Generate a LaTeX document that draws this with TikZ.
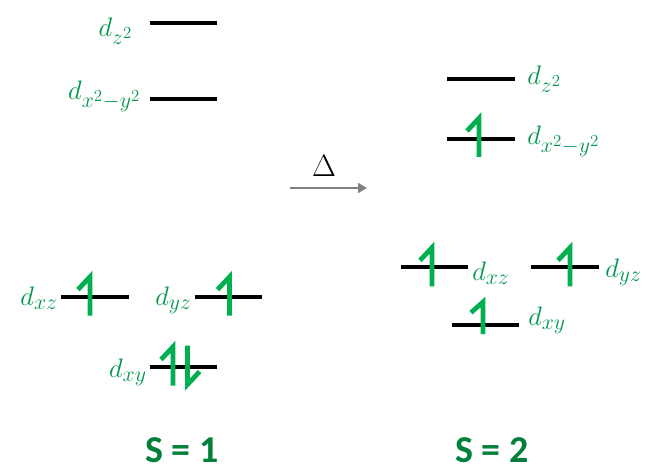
\documentclass[tikz,border=0pt]{standalone}
\usepackage{fix-cm}
\usepackage{fontspec}
\newfontfamily\calib{Carlito}
\usepackage{tikz}
\usetikzlibrary{arrows.meta}
\DeclareMathSizes{19}{19}{15.5}{12}
\definecolor{orbgreen}{RGB}{0,150,75}
\definecolor{spingreen}{RGB}{0,176,80}
\definecolor{totalgreen}{RGB}{0,128,58}
\definecolor{heatgrey}{RGB}{128,128,128}

\begin{document}
\begin{tikzpicture}[
    orbital/.style={inner sep=0pt, minimum width=1.675cm, minimum height=0pt},
    orbbar/.style={black, line width=2.6pt},
    orb/.style={inner sep=0pt, text=orbgreen, font=\fontsize{19}{23}\selectfont},
    spinbar/.style={spingreen, line width=3.4pt, line join=miter},
    spinup/.pic={\draw[spinbar] (0,-0.5) -- (0,0.47) -- (-0.3,0.15);},
    spindown/.pic={\draw[spinbar] (0,0.5) -- (0,-0.47) -- (0.3,-0.15);},
    heat/.style={draw=heatgrey, line width=2pt, -{Triangle[length=0.22cm, width=0.24cm]}},
    total/.style={inner sep=0pt, font=\calib\bfseries\fontsize{27}{32}\selectfont, text=totalgreen, anchor=base}
]
    \useasboundingbox (0,0) rectangle (16.35,-11.875);

    % left: S = 1 levels
    \node[orbital] (z2L)   at (4.5875,-0.575) {};
    \node[orbital] (x2y2L) at (4.5875,-2.475) {};
    \node[orbital] (xzL)   at (2.375,-7.425) {};
    \node[orbital] (yzL)   at (5.7125,-7.425) {};
    \node[orbital] (xyL)   at (4.5875,-9.175) {};

    % right: S = 2 levels
    \node[orbital] (z2R)   at (12.025,-1.975) {};
    \node[orbital] (x2y2R) at (12.025,-3.475) {};
    \node[orbital] (xzR)   at (10.86,-6.675) {};
    \node[orbital] (yzR)   at (14.125,-6.675) {};
    \node[orbital] (xyR)   at (12.14,-8.125) {};

    \foreach \lv in {z2L,x2y2L,xzL,yzL,xyL,z2R,x2y2R,xzR,yzR,xyR}
        \draw[orbbar] (\lv.west) -- (\lv.east);

    % labels
    \node[orb, anchor=base east] (lz2L)   at (3.325,-0.925) {$d_{z^2}$};
    \node[orb, anchor=base east] (lx2y2L) at (3.525,-2.5)   {$d_{x^2-y^2}$};
    \node[orb, anchor=base east] (lxzL)   at (1.45,-7.625)  {$d_{xz}$};
    \node[orb, anchor=base east] (lyzL)   at (4.8,-7.625)   {$d_{yz}$};
    \node[orb, anchor=base east] (lxyL)   at (3.675,-9.425) {$d_{xy}$};

    \node[orb, anchor=base west] (lz2R)   at (13.175,-2.125) {$d_{z^2}$};
    \node[orb, anchor=base west] (lx2y2R) at (13.175,-3.625) {$d_{x^2-y^2}$};
    \node[orb, anchor=base west] (lxzR)   at (11.8,-7.0)     {$d_{xz}$};
    \node[orb, anchor=base west] (lyzR)   at (15.125,-6.925) {$d_{yz}$};
    \node[orb, anchor=base west] (lxyR)   at (13.2,-8.125)   {$d_{xy}$};

    % electrons
    \pic at (2.25,-7.39)  {spinup};
    \pic at (5.74,-7.39)  {spinup};
    \pic at (4.325,-9.14) {spinup};
    \pic at (4.69,-9.14)  {spindown};

    \pic at (11.975,-3.425) {spinup};
    \pic at (10.8,-6.66)    {spinup};
    \pic at (14.25,-6.66)   {spinup};
    \pic[yscale=0.83] at (12.075,-7.94) {spinup};

    % splitting
    \node[font=\fontsize{22}{26}\selectfont, anchor=base] (delta) at (8.1,-4.425) {$\Delta$};
    \coordinate (heatA) at (7.25,-4.7);
    \coordinate (heatB) at (9.175,-4.7);
    \draw[heat] (heatA) -- (heatB);

    % spin totals
    \node[total] (sOne) at (4.55,-11.55) {S = 1};
    \node[total] (sTwo) at (12.3,-11.55) {S = 2};
\end{tikzpicture}
\end{document}
